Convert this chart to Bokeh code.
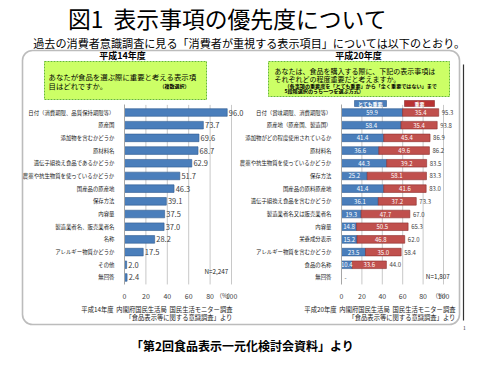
from bokeh.plotting import figure
from bokeh.models import Range1d, LinearAxis, FixedTicker, BoxAnnotation
from bokeh.core.properties import value
from bokeh.embed import file_html
from bokeh.resources import INLINE

FONT = "Noto Sans CJK JP"

# ---------------- data ----------------
title_text = "図1\u00a0\u00a0表示事項の優先度について"
subtitle_text = "過去の消費者意識調査に見る「消費者が重視する表示項目」については以下のとおり。"
footer_text = "「第2回食品表示一元化検討会資料」より"

left_year = "平成14年度"
left_question = ["あなたが食品を選ぶ際に重要と考える表示項", "目はどれですか。"]
left_note = "（複数選択）"
left_categories = ["日付（消費期限、品質保持期限等）", "原産国", "添加物を含むかどうか", "原材料名",
                   "遺伝子組換え食品であるかどうか", "農薬や抗生物質を使っているかどうか", "国産品の原産地",
                   "保存方法", "内容量", "製造業者名、販売業者名", "名称", "アレルギー物質かどうか",
                   "その他", "無回答"]
left_values = [96.0, 73.7, 69.6, 68.7, 62.9, 51.7, 46.3, 39.1, 37.5, 37.0, 28.2, 17.5, 2.0, 2.4]
left_n = "N=2,247"
left_source = ["平成14年度\u00a0\u00a0内閣府国民生活局\u00a0\u00a0国民生活モニター調査", "「食品表示等に関する意識調査」より"]

right_year = "平成20年度"
right_question = ["あなたは、食品を購入する際に、下記の表示事項は", "それぞれどの程度重要だと考えますか。"]
right_note = ["（各事項の重要度を「とても重要」から「全く重要ではない」まで", "5段階選択のうち一つを選ぶ方式）"]
right_categories = ["日付（賞味期限、消費期限等）", "原産地（原産国、製造国）", "添加物がどの程度使用されているか",
                    "原材料名", "農薬や抗生物質を使っているかどうか", "保存方法", "国産品の原料原産地",
                    "遺伝子組換え食品を含むかどうか", "製造業者名又は販売業者名", "内容量", "栄養成分表示",
                    "アレルギー物質を含むかどうか", "食品の名称", "無回答"]
right_very = [59.9, 58.4, 41.4, 36.6, 44.3, 25.2, 41.4, 36.1, 19.3, 14.8, 15.2, 23.5, 10.4, None]
right_important = [35.4, 35.4, 45.4, 49.6, 39.2, 58.1, 41.6, 37.2, 47.7, 50.5, 46.8, 35.0, 33.6, None]
right_total = [95.3, 93.8, 86.9, 86.2, 83.5, 83.3, 83.0, 73.3, 67.0, 65.3, 62.0, 58.4, 44.0, None]
right_series = ["とても重要", "重要"]
right_n = "N=1,807"
right_source = ["平成20年度\u00a0\u00a0内閣府国民生活局\u00a0\u00a0国民生活モニター調査", "「食品表示等に関する意識調査」より"]

x_ticks = [0, 20, 40, 60, 80, 100]
page_number = "1"

# ---------------- layout constants (page pixels) ----------------
W, H = 484, 359
M = 8
ROW0, ROW_STEP = 120.0, 12.69
L0, LS = 132.0, 1.07
R0, RS = 349.0, 1.02
AXIS_ROW = 13.55
TOP_ROW = -0.6

BLUE, BLUE_D = "#4a7ebb", "#2f5b8f"
RED, RED_D = "#c0504d", "#8c2d2b"
TXT = "#404040"

p = figure(width=W, height=H, x_range=Range1d(M, M + W), y_range=Range1d(M + H, M),
           output_backend="svg", toolbar_location=None, x_axis_type=None, y_axis_type=None,
           min_border=0, title=None)
p.outline_line_color = None
p.background_fill_color = "white"

p.extra_x_ranges = {
    "lx": Range1d((M - L0) / LS, (M + W - L0) / LS),
    "rx": Range1d((M - R0) / RS, (M + W - R0) / RS),
}
p.extra_y_ranges = {"ly": Range1d((M + H - ROW0) / ROW_STEP, (M - ROW0) / ROW_STEP)}

idx = list(range(len(left_categories)))

# ---------------- decorations ----------------
p.text(x=[235], y=[26], text=[title_text], text_font=value(FONT), text_font_size="22.8px",
       text_align="center", text_baseline="middle", text_color="black")
p.text(x=[257], y=[50], text=[subtitle_text], text_font=value(FONT), text_font_size="11.1px",
       text_align="center", text_baseline="middle", text_color="black")
p.text(x=[250], y=[353], text=[footer_text], text_font=value(FONT), text_font_size="12px",
       text_font_style="bold", text_align="center", text_baseline="middle", text_color="black")

box = BoxAnnotation(left=30, right=467, top=58, bottom=332, fill_color=None, fill_alpha=0,
                    line_color="#222222", line_width=1.6, border_radius=10)
p.add_layout(box)
p.segment(x0=[471], x1=[471], y0=[72], y1=[328], line_color="#333333", line_width=1.2)
p.text(x=[472], y=[335], text=[page_number], text_font=value(FONT), text_font_size="5px",
       text_align="center", text_baseline="middle", text_color="#333333")

# year headers
p.text(x=[130, 366], y=[63, 63], text=[left_year, right_year], text_font=value(FONT),
       text_font_size="9px", text_font_style="bold", text_align="center", text_baseline="middle",
       text_color="black")

# question boxes
p.quad(left=[52, 276], right=[214, 457], top=[69, 69], bottom=[107, 104],
       fill_color="#ccff66", line_color="#66bb33", line_dash="2 1", line_width=1)
p.text(x=[56, 56], y=[84, 93], text=left_question, text_font=value(FONT), text_font_size="7.4px",
       text_align="left", text_baseline="middle", text_color="black")
p.text(x=[167], y=[93], text=[left_note], text_font=value(FONT), text_font_size="5px",
       text_font_style="bold", text_align="left", text_baseline="middle", text_color="black")
p.text(x=[282, 282], y=[78, 86], text=right_question, text_font=value(FONT), text_font_size="7px",
       text_align="left", text_baseline="middle", text_color="black")
p.text(x=[292, 292], y=[92.5, 97.5], text=right_note, text_font=value(FONT), text_font_size="5.1px",
       text_font_style="bold", text_align="left", text_baseline="middle", text_color="black")

# legend boxes for right chart
p.quad(left=[362, 412], right=[394, 442], top=[108, 108], bottom=[114, 114],
       fill_color=[BLUE, "#b83232"], line_color=[BLUE_D, RED_D], line_width=0.6)
p.text(x=[378, 427], y=[111, 111], text=right_series, text_font=value(FONT), text_font_size="5px",
       text_font_style="bold", text_align="center", text_baseline="middle", text_color="white")

# sources
p.text(x=[240, 240], y=[317, 325], text=left_source, text_font=value(FONT), text_font_size="6.3px",
       text_align="right", text_baseline="middle", text_color="#222222")
p.text(x=[463, 463], y=[317, 325], text=right_source, text_font=value(FONT), text_font_size="6.3px",
       text_align="right", text_baseline="middle", text_color="#222222")


def chart_axes(xname, categories):
    xa = LinearAxis(x_range_name=xname, y_range_name="ly", fixed_location=AXIS_ROW,
                    bounds=(0, 100), ticker=FixedTicker(ticks=x_ticks))
    xa.axis_line_color = None
    xa.major_tick_line_color = None
    xa.minor_tick_line_color = None
    xa.major_label_standoff = 3
    xa.major_label_text_font = FONT
    xa.major_label_text_font_size = "7px"
    xa.major_label_text_color = TXT
    p.add_layout(xa, "below")

    ya = LinearAxis(x_range_name=xname, y_range_name="ly", fixed_location=0,
                    bounds=(TOP_ROW, AXIS_ROW), ticker=FixedTicker(ticks=idx),
                    major_label_overrides={i: c for i, c in enumerate(categories)})
    ya.axis_line_color = "#a6a6a6"
    ya.axis_line_width = 1
    ya.major_tick_line_color = None
    ya.minor_tick_line_color = None
    ya.major_label_standoff = 4
    ya.major_label_text_font = FONT
    ya.major_label_text_font_size = "5.4px"
    ya.major_label_text_color = "#222222"
    p.add_layout(ya, "left")

    grid_x = [t for t in x_ticks if t > 0]
    p.segment(x0=grid_x, x1=grid_x, y0=[TOP_ROW] * len(grid_x), y1=[AXIS_ROW] * len(grid_x),
              x_range_name=xname, y_range_name="ly", line_color="#c8c8c8", line_width=1)


chart_axes("lx", left_categories)
chart_axes("rx", right_categories)

# ---------------- left chart ----------------
p.hbar(y=idx, left=0, right=left_values, height=0.6, x_range_name="lx", y_range_name="ly",
       fill_color=BLUE, line_color=BLUE_D, line_width=0.6)
p.text(x=[v + 1.5 for v in left_values], y=idx, text=[f"{v:.1f}" for v in left_values],
       x_range_name="lx", y_range_name="ly", text_font=value(FONT), text_font_size="7.5px",
       text_align="left", text_baseline="middle", text_color=TXT)
p.text(x=[97], y=[12.5], text=[left_n], x_range_name="lx", y_range_name="ly",
       text_font=value(FONT), text_font_size="6.3px", text_align="right", text_baseline="middle",
       text_color="#222222")
p.text(x=[102], y=[14.4], text=["（%）"], x_range_name="lx", y_range_name="ly",
       text_font=value(FONT), text_font_size="6px", text_align="right", text_baseline="middle",
       text_color=TXT)

# ---------------- right chart ----------------
ri = [i for i in idx if right_very[i] is not None]
rv = [right_very[i] for i in ri]
rm = [right_important[i] for i in ri]
rt = [right_total[i] for i in ri]
p.hbar(y=ri, left=0, right=rv, height=0.6, x_range_name="rx", y_range_name="ly",
       fill_color=BLUE, line_color=BLUE_D, line_width=0.6)
p.hbar(y=ri, left=rv, right=[a + b for a, b in zip(rv, rm)], height=0.6, x_range_name="rx",
       y_range_name="ly", fill_color=RED, line_color=RED_D, line_width=0.6)
p.text(x=[a / 2 for a in rv], y=ri, text=[f"{a:.1f}" for a in rv], x_range_name="rx",
       y_range_name="ly", text_font=value(FONT), text_font_size="6px", text_align="center",
       text_baseline="middle", text_color="white")
p.text(x=[a + b / 2 for a, b in zip(rv, rm)], y=ri, text=[f"{b:.1f}" for b in rm],
       x_range_name="rx", y_range_name="ly", text_font=value(FONT), text_font_size="6px",
       text_align="center", text_baseline="middle", text_color="white")
p.text(x=[a + b + 3 for a, b in zip(rv, rm)], y=ri, text=[f"{t:.1f}" for t in rt],
       x_range_name="rx", y_range_name="ly", text_font=value(FONT), text_font_size="6px",
       text_align="left", text_baseline="middle", text_color=TXT)
missing = [i for i in idx if right_very[i] is None]
p.text(x=[4] * len(missing), y=missing, text=["-"] * len(missing), x_range_name="rx",
       y_range_name="ly", text_font=value(FONT), text_font_size="6px", text_align="center",
       text_baseline="middle", text_color=TXT)
p.text(x=[106], y=[12.95], text=[right_n], x_range_name="rx", y_range_name="ly",
       text_font=value(FONT), text_font_size="6.3px", text_align="right", text_baseline="middle",
       text_color="#222222")
p.text(x=[106], y=[14.4], text=["（%）"], x_range_name="rx", y_range_name="ly",
       text_font=value(FONT), text_font_size="6px", text_align="right", text_baseline="middle",
       text_color=TXT)

open("out.html", "w").write(file_html(p, INLINE))
